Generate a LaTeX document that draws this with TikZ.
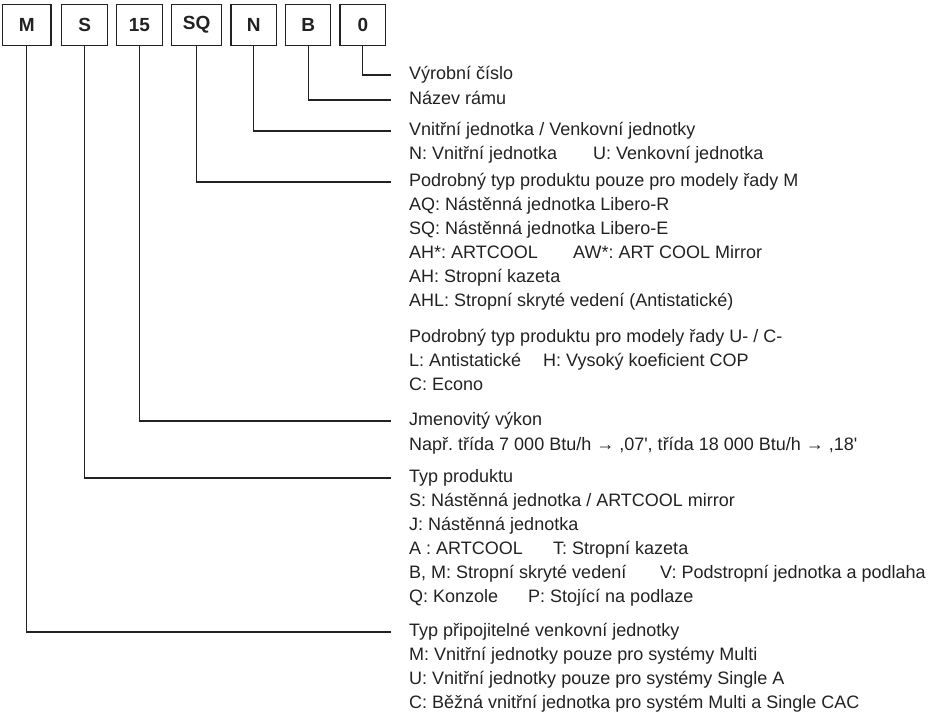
\documentclass[tikz,border=0pt]{standalone}
\usepackage{fontspec}
\setmainfont{Liberation Sans}
\definecolor{ink}{HTML}{222222}
\frenchspacing
\begin{document}
\begin{tikzpicture}[x=1pt,y=-1pt,
  codebox/.style={draw=ink, line width=1.2pt, inner sep=0pt, minimum height=41.4pt,
    font=\fontsize{19}{20}\selectfont\bfseries, text=ink},
  desc/.style={anchor=west, inner sep=0pt, text height=13pt, text depth=4pt,
    font=\fontsize{18}{22}\selectfont, text=ink},
  leader/.style={draw=ink, line width=1.1pt}]
\useasboundingbox (0,0) rectangle (942,713);
% code boxes
\node[codebox, minimum width=48.7pt] (bM)  at (26.7,25)  {M};
\node[codebox, minimum width=46pt]   (bS)  at (84.7,25)  {S};
\node[codebox, minimum width=45.6pt] (b15) at (139.5,25) {15};
\node[codebox, minimum width=50pt]   (bSQ) at (196.7,25) {SQ};
\node[codebox, minimum width=45.3pt] (bN)  at (253.7,25) {N};
\node[codebox, minimum width=45pt]   (bB)  at (308.2,25) {B};
\node[codebox, minimum width=45.7pt] (b0)  at (362.9,25) {0};
% descriptions
\node[desc] (t0)   at (409,75)  {Výrobní číslo};
\node[desc] (tB)   at (409,100) {Název rámu};
\node[desc] (tN)   at (409,131) {Vnitřní jednotka / Venkovní jednotky};
\node[desc] (tN1)  at (409,155) {N: Vnitřní jednotka};
\node[desc] (tN2)  at (593,155) {U: Venkovní jednotka};
\node[desc] (tSQ)  at (409,182) {Podrobný typ produktu pouze pro modely řady M};
\node[desc] (tSQ1) at (409,206) {AQ: Nástěnná jednotka Libero-R};
\node[desc] (tSQ2) at (409,230) {SQ: Nástěnná jednotka Libero-E};
\node[desc] (tSQ3) at (409,254) {AH*: ARTCOOL};
\node[desc] (tSQ4) at (573,254) {AW*: ART COOL Mirror};
\node[desc] (tSQ5) at (409,278) {AH: Stropní kazeta};
\node[desc] (tSQ6) at (409,302) {AHL: Stropní skryté vedení (Antistatické)};
\node[desc] (tU)   at (409,338) {Podrobný typ produktu pro modely řady U- / C-};
\node[desc] (tU1)  at (409,362) {L: Antistatické};
\node[desc] (tU2)  at (543,362) {H: Vysoký koeficient COP};
\node[desc] (tU3)  at (409,386) {C: Econo};
\node[desc] (t15)  at (409,421) {Jmenovitý výkon};
\node[desc] (t151) at (409,446) {Např. třída 7 000 Btu/h → ,07\textquotesingle, třída 18 000 Btu/h → ,18\textquotesingle};
\node[desc] (tS)   at (409,478) {Typ produktu};
\node[desc] (tS1)  at (409,502) {S: Nástěnná jednotka / ARTCOOL mirror};
\node[desc] (tS2)  at (409,526) {J: Nástěnná jednotka};
\node[desc] (tS3)  at (409,550) {A : ARTCOOL};
\node[desc] (tS4)  at (553,550) {T: Stropní kazeta};
\node[desc] (tS5)  at (409,574) {B, M: Stropní skryté vedení};
\node[desc] (tS6)  at (660,574) {V: Podstropní jednotka a podlaha};
\node[desc] (tS7)  at (409,598) {Q: Konzole};
\node[desc] (tS8)  at (528,598) {P: Stojící na podlaze};
\node[desc] (tM)   at (409,632) {Typ připojitelné venkovní jednotky};
\node[desc] (tM1)  at (409,656) {M: Vnitřní jednotky pouze pro systémy Multi};
\node[desc] (tM2)  at (409,680) {U: Vnitřní jednotky pouze pro systémy Single A};
\node[desc] (tM3)  at (409,704) {C: Běžná vnitřní jednotka pro systém Multi a Single CAC};
% leaders
\draw[leader] (b0.south)  |- ([xshift=-18pt]t0.west);
\draw[leader] (bB.south)  |- ([xshift=-18pt]tB.west);
\draw[leader] (bN.south)  |- ([xshift=-18pt]tN.west);
\draw[leader] (bSQ.south) |- ([xshift=-18pt]tSQ.west);
\draw[leader] (b15.south) |- ([xshift=-18pt]t15.west);
\draw[leader] (bS.south)  |- ([xshift=-18pt]tS.west);
\draw[leader] (bM.south)  |- ([xshift=-18pt]tM.west);
\end{tikzpicture}
\end{document}
